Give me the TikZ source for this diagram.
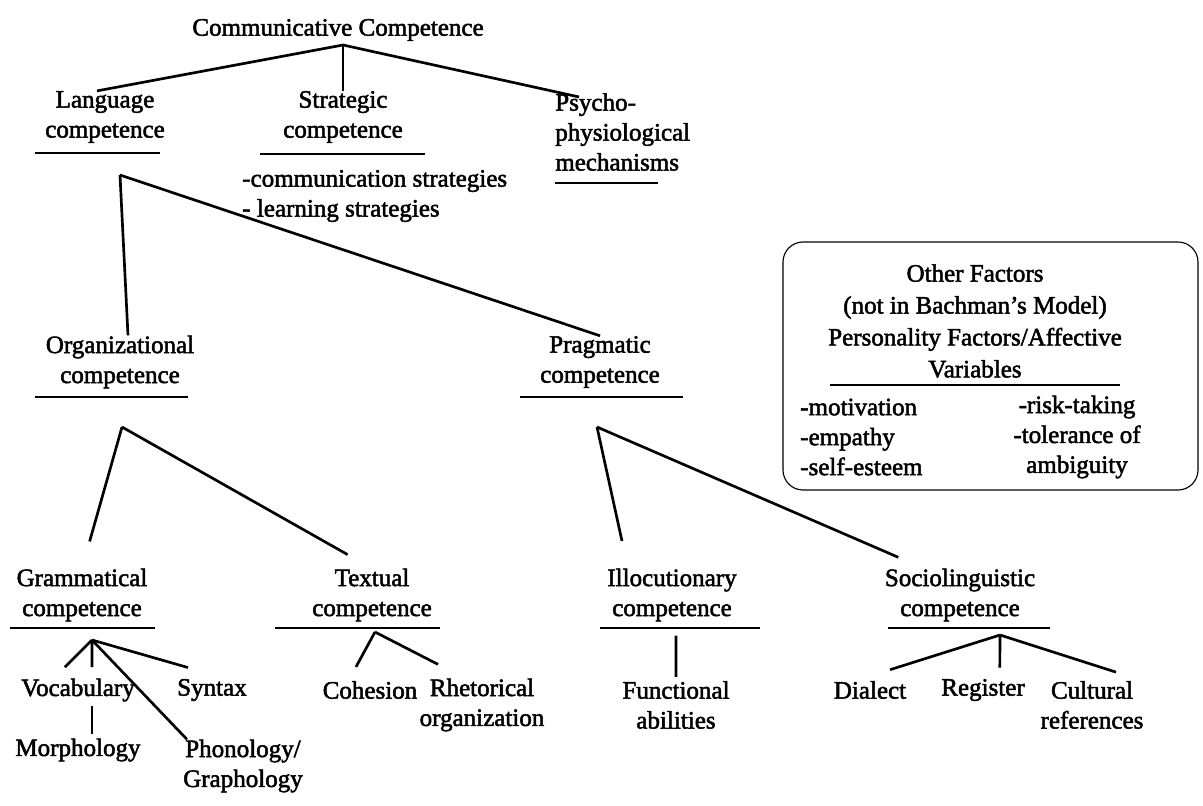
\documentclass[tikz,border=0pt]{standalone}
\usepackage{fontspec}
\setmainfont{Liberation Serif}[FakeBold=2]
\usetikzlibrary{positioning}

\newcommand{\cfont}{\fontsize{17.8}{21.3}\selectfont}
\newcommand{\bfont}{\fontsize{17.8}{22.7}\selectfont}

\tikzset{
  txt/.style={align=center,inner sep=0pt,font=\cfont},
  lft/.style={align=left,inner sep=0pt,font=\cfont,anchor=west},
  link/.style={line width=1.9pt},
  gap/.style={link,shorten >=0.7cm},
  uline/.style={line width=1.2pt}
}

\begin{document}
\begin{tikzpicture}[x=0.025cm,y=-0.025cm]
\useasboundingbox (0,0) rectangle (1203,805);

\node[txt] (cc) at (338,30) {Communicative Competence};
\coordinate (cj) at (343,45);

\node[txt] (lang)  at (105,117) {Language\\competence};
\node[txt] (strat) at (343,117) {Strategic\\competence};
\node[lft] (stratl) at (242,196) {-communication strategies\\- learning strategies};
\node[lft] (psy)   at (555,132) {Psycho-\\physiological\\mechanisms};

\draw[link] (cj) -- ([xshift=-0.2cm]lang.north);
\draw[link] (cj) -- (strat.north);
\draw[link] (cj) -- ([xshift=0.6cm,yshift=-0.1cm]psy.north west);

\coordinate (la) at (120,175);
\node[txt] (org)  at (120,362) {Organizational\\competence};
\node[txt] (prag) at (600,362) {Pragmatic\\competence};
\draw[link] (la) -- ([xshift=0.2cm]org.north);
\draw[link] (la) -- (prag.north);

\coordinate (oa) at (122,427);
\coordinate (pa) at (597,427);
\node[txt] (gram) at (82,595)  {Grammatical\\competence};
\node[txt] (textc) at (372,595) {Textual\\competence};
\node[txt] (illo) at (672,595) {Illocutionary\\competence};
\node[txt] (socio) at (960,595) {Sociolinguistic\\competence};
\draw[gap] (oa) -- (gram.north);
\draw[gap] (oa) -- (textc.north);
\draw[gap] (pa) -- ([xshift=-1.1cm]illo.north);
\draw[gap] (pa) -- ([xshift=-0.9cm]socio.north);

\coordinate (ga) at (92,640);
\node[txt] (vocab)  at (78,690)  {Vocabulary};
\node[txt] (syntax) at (212,690) {Syntax};
\node[txt] (morph)  at (78,750)  {Morphology};
\node[txt] (phon)   at (243,766) {Phonology/\\Graphology};
\draw[link] (ga) -- ([xshift=-0.33cm,yshift=0.28cm]vocab.north);
\draw[link] (ga) -- ([xshift=0.35cm,yshift=0.28cm]vocab.north);
\draw[link] (ga) -- ([xshift=-0.6cm,yshift=0.28cm]syntax.north);
\draw[link] (ga) -- ([xshift=0.1cm]phon.north west);
\draw[link,shorten <=0.1cm,shorten >=0.1cm] ([xshift=0.35cm]vocab.south) -- ([xshift=0.35cm]morph.north);

\coordinate (ta) at (375,632);
\node[txt] (cohes) at (370,690) {Cohesion};
\node[txt] (rhet)  at (482,705) {Rhetorical\\organization};
\draw[link] (ta) -- ([xshift=-0.35cm,yshift=0.35cm]cohes.north);
\draw[link] (ta) -- ([xshift=-1.1cm,yshift=0.35cm]rhet.north);

\node[txt] (func) at (676,705) {Functional\\abilities};
\draw[link,shorten <=0.35cm,shorten >=0.1cm] ([xshift=0.1cm]illo.south) -- (func.north);

\coordinate (sa) at (1000,635);
\node[txt] (dial)  at (870,690)  {Dialect};
\node[txt] (regis) at (983,690)  {Register};
\node[txt] (cult)  at (1092,705) {Cultural\\references};
\draw[link] (sa) -- ([xshift=0.5cm,yshift=0.28cm]dial.north);
\draw[link] (sa) -- ([xshift=0.42cm,yshift=0.28cm]regis.north);
\draw[link] (sa) -- ([xshift=0.6cm,yshift=0.22cm]cult.north);

\foreach \a/\b/\y in {35/160/153, 260/425/154, 555/658/183, 35/188/397, 520/683/397,
    10/155/628, 275/440/628, 600/760/628, 888/1050/628, 830/1120/385}
  \draw[uline] (\a,\y) -- (\b,\y);

\draw[line width=0.8pt,rounded corners=0.5cm] (783,242) rectangle (1198,490);
\node[txt,font=\bfont] (other) at (975,321) {Other Factors\\(not in Bachman's Model)\\Personality Factors/Affective\\Variables};
\node[lft] (affl) at (800,437) {-motivation\\-empathy\\-self-esteem};
\node[txt] (affr) at (1077,437) {-risk-taking\\-tolerance of\\ambiguity};

\end{tikzpicture}
\end{document}
